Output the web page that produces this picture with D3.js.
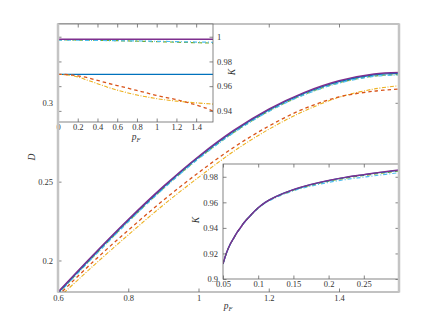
<!DOCTYPE html>
<html>
<head>
<meta charset="utf-8">
<script src="https://d3js.org/d3.v7.min.js"></script>
<style>
  html, body { margin: 0; padding: 0; background: #fff; }
  svg text { font-family: "Liberation Serif", "DejaVu Serif", serif; fill: #333; }
</style>
</head>
<body>
<svg id="chart" width="440" height="330"></svg>
<script>
// main panel: D vs p_F
var pF = [0.6, 0.7, 0.8, 0.9, 1.0, 1.1, 1.2, 1.3, 1.4, 1.5, 1.5708];
var dPurple = [0.180, 0.2035, 0.226, 0.247, 0.266, 0.2825, 0.296, 0.3065, 0.314, 0.3183, 0.3192];
var dBlue   = [0.1795, 0.203, 0.2255, 0.2465, 0.2655, 0.282, 0.2955, 0.306, 0.3135, 0.3178, 0.3187];
var dGreen  = [0.179, 0.2023, 0.2247, 0.2457, 0.2647, 0.2812, 0.2947, 0.3052, 0.3127, 0.317, 0.3179];
var dCyan   = [0.1788, 0.202, 0.2245, 0.2455, 0.2645, 0.281, 0.2945, 0.305, 0.3125, 0.3168, 0.3177];
var dRed    = [0.1777, 0.1992, 0.2192, 0.2382, 0.2557, 0.2717, 0.2852, 0.2962, 0.3037, 0.3074, 0.3087];
var dYellow = [0.176, 0.1965, 0.2162, 0.2352, 0.2527, 0.2692, 0.2832, 0.2947, 0.3035, 0.3088, 0.3108];
var mainX = [0.6, 0.8, 1, 1.2, 1.4];
var mainY = [0.2, 0.25, 0.3];

// top-left inset: K vs p_F
var pIn = [0, 0.1, 0.2, 0.3, 0.4, 0.5, 0.6, 0.7, 0.8, 0.9, 1.0, 1.1, 1.2, 1.3, 1.4, 1.5, 1.5708];
var kPurple = [0.998, 0.998, 0.998, 0.998, 0.998, 0.998, 0.998, 0.998, 0.998, 0.998, 0.998, 0.998, 0.998, 0.998, 0.998, 0.998, 0.998];
var kCyan   = [0.9973, 0.9973, 0.9972, 0.9971, 0.997, 0.9969, 0.9968, 0.9967, 0.9966, 0.9965, 0.9963, 0.9962, 0.996, 0.9959, 0.9957, 0.9956, 0.9955];
var kGreen  = [0.9974, 0.9974, 0.9973, 0.9972, 0.9971, 0.997, 0.9968, 0.9966, 0.9964, 0.9962, 0.996, 0.9958, 0.9956, 0.9954, 0.9952, 0.995, 0.9948];
var kBlue   = [0.9696, 0.9696, 0.9696, 0.9696, 0.9696, 0.9696, 0.9696, 0.9696, 0.9696, 0.9696, 0.9696, 0.9696, 0.9696, 0.9696, 0.9696, 0.9696, 0.9696];
var kRed    = [0.9696, 0.9693, 0.9684, 0.9668, 0.9647, 0.9625, 0.9605, 0.9585, 0.9565, 0.9545, 0.9525, 0.9508, 0.9491, 0.947, 0.9448, 0.9422, 0.9398];
var kYellow = [0.9696, 0.969, 0.9675, 0.9648, 0.962, 0.9592, 0.9568, 0.9547, 0.9528, 0.9513, 0.9499, 0.9488, 0.9479, 0.9472, 0.9465, 0.9459, 0.9455];
var in1X = [0, 0.2, 0.4, 0.6, 0.8, 1, 1.2, 1.4];
var in1Y = [0.94, 0.96, 0.98, 1];

// bottom-right inset: K vs p_F (small p_F)
var pSm = [0.05, 0.055, 0.06, 0.065, 0.07, 0.075, 0.08, 0.09, 0.1, 0.11, 0.125, 0.15, 0.175, 0.2, 0.225, 0.25, 0.275, 0.3];
var sPurple = [0.9118, 0.9205, 0.927, 0.9318, 0.9365, 0.9403, 0.9442, 0.9503, 0.9557, 0.960, 0.9645, 0.970, 0.974, 0.9772, 0.9797, 0.9817, 0.9836, 0.9853];
var sBlue   = [0.9118, 0.9205, 0.927, 0.9318, 0.9365, 0.9403, 0.9442, 0.9503, 0.9557, 0.960, 0.9645, 0.9699, 0.9739, 0.977, 0.9795, 0.9815, 0.9834, 0.985];
var sGreen  = [0.9118, 0.9205, 0.927, 0.9318, 0.9365, 0.9403, 0.9442, 0.9503, 0.9556, 0.9598, 0.9642, 0.9696, 0.9735, 0.9765, 0.979, 0.981, 0.9828, 0.9845];
var sCyan   = [0.9116, 0.9203, 0.9268, 0.9316, 0.9363, 0.94, 0.9439, 0.95, 0.9553, 0.9594, 0.9637, 0.969, 0.9727, 0.9756, 0.9779, 0.9797, 0.9815, 0.9832];
var in2X = [0.05, 0.1, 0.15, 0.2, 0.25];
var in2Y = [0.9, 0.92, 0.94, 0.96, 0.98];

var C = {purple: "#7E2F8E", blue: "#0072BD", cyan: "#4DBEEE", green: "#77AC30", red: "#D95319", yellow: "#EDB120"};
var styles = {
  purple: {c: C.purple, dash: null, w: 1.4},
  blue:   {c: C.blue, dash: null, w: 1.3},
  green:  {c: C.green, dash: "4,3", w: 1.2},
  cyan:   {c: C.cyan, dash: "4,2,1,2", w: 1.2},
  red:    {c: C.red, dash: "3.5,3", w: 1.3},
  yellow: {c: C.yellow, dash: "4,1.5,1,1.5", w: 1.1}
};

var svg = d3.select("#chart");
var fmt = function(d) { return String(+d.toFixed(2)); };
var axisCol = "#666";

function panel(opt) {
  var x = d3.scaleLinear().domain(opt.xd).range([opt.l, opt.r]);
  var y = d3.scaleLinear().domain(opt.yd).range([opt.b, opt.t]);
  var g = svg.append("g");
  g.append("rect").attr("x", opt.l).attr("y", opt.t)
    .attr("width", opt.r - opt.l).attr("height", opt.b - opt.t).attr("fill", "#fff");
  var id = "clip" + opt.name;
  g.append("clipPath").attr("id", id).append("rect")
    .attr("x", opt.l).attr("y", opt.t).attr("width", opt.r - opt.l).attr("height", opt.b - opt.t);
  var lines = g.append("g").attr("clip-path", "url(#" + id + ")");
  opt.series.forEach(function(s) {
    var st = styles[s.key];
    var line = d3.line().curve(d3.curveCatmullRom.alpha(0.5))
      .x(function(d, i) { return x(opt.xs[i]); })
      .y(function(d) { return y(d); });
    lines.append("path").attr("d", line(s.v)).attr("fill", "none")
      .attr("stroke", st.c).attr("stroke-width", st.w)
      .attr("stroke-dasharray", st.dash);
  });
  // box and inward ticks
  var tl = 3.5;
  g.append("rect").attr("x", opt.l).attr("y", opt.t)
    .attr("width", opt.r - opt.l).attr("height", opt.b - opt.t)
    .attr("fill", "none").attr("stroke", axisCol).attr("stroke-width", 0.8);
  var gx = g.append("g").attr("transform", "translate(0," + opt.b + ")")
    .call(d3.axisBottom(x).tickValues(opt.xt).tickSize(-tl).tickPadding(opt.xpad).tickFormat(fmt));
  var gxt = g.append("g").attr("transform", "translate(0," + opt.t + ")")
    .call(d3.axisTop(x).tickValues(opt.xt).tickSize(-tl).tickFormat(""));
  var yAx = opt.yRight ? d3.axisRight(y) : d3.axisLeft(y);
  var gy = g.append("g").attr("transform", "translate(" + (opt.yRight ? opt.r : opt.l) + ",0)")
    .call(yAx.tickValues(opt.yt).tickSize(-tl).tickPadding(opt.ypad).tickFormat(fmt));
  var yAx2 = opt.yRight ? d3.axisLeft(y) : d3.axisRight(y);
  var gy2 = g.append("g").attr("transform", "translate(" + (opt.yRight ? opt.l : opt.r) + ",0)")
    .call(yAx2.tickValues(opt.yt).tickSize(-tl).tickFormat(""));
  [gx, gxt, gy, gy2].forEach(function(a) {
    a.select(".domain").remove();
    a.selectAll("line").attr("stroke", axisCol).attr("stroke-width", 0.8);
    a.selectAll("text").attr("font-size", 8.5).attr("fill", "#444")
      .attr("font-family", "Liberation Serif, serif");
  });
  return {g: g, x: x, y: y};
}

function pLabel(g, x, y) {
  g.append("text").attr("x", x).attr("y", y).attr("text-anchor", "middle")
    .attr("font-size", 9.5).attr("font-style", "italic").attr("fill", "#444").text("p").append("tspan")
    .attr("font-size", 6.5).attr("dy", 1.5).text("F");
}

// main panel
var main = panel({
  name: "main", l: 58, r: 399, t: 24, b: 292, xpad: 3, ypad: 5,
  xd: [0.6, 1.5708], yd: [0.18, 0.35], xs: pF, xt: mainX, yt: mainY,
  series: [
    {key: "yellow", v: dYellow}, {key: "red", v: dRed}, {key: "green", v: dGreen},
    {key: "cyan", v: dCyan}, {key: "blue", v: dBlue}, {key: "purple", v: dPurple}
  ]
});
pLabel(main.g, 228, 309);
main.g.append("text").attr("transform", "translate(35,157) rotate(-90)")
  .attr("text-anchor", "middle").attr("font-size", 9.5).attr("font-style", "italic").attr("fill", "#444").text("D");

// top-left inset
var in1 = panel({
  name: "in1", l: 58, r: 213, t: 24, b: 122, yRight: true, xpad: 2, ypad: 4,
  xd: [0, 1.5708], yd: [0.931, 1.0103], xs: pIn, xt: in1X, yt: in1Y,
  series: [
    {key: "blue", v: kBlue}, {key: "yellow", v: kYellow}, {key: "red", v: kRed},
    {key: "green", v: kGreen}, {key: "cyan", v: kCyan}, {key: "purple", v: kPurple}
  ]
});
pLabel(in1.g, 136, 140);
in1.g.append("text").attr("transform", "translate(235,72) rotate(-90)")
  .attr("text-anchor", "middle").attr("font-size", 9.5).attr("font-style", "italic").attr("fill", "#444").text("K");

// bottom-right inset
var in2 = panel({
  name: "in2", l: 223, r: 399, t: 164, b: 279, xpad: 2, ypad: 5,
  xd: [0.05, 0.3], yd: [0.9, 0.99], xs: pSm, xt: in2X, yt: in2Y,
  series: [
    {key: "cyan", v: sCyan}, {key: "green", v: sGreen}, {key: "blue", v: sBlue}, {key: "purple", v: sPurple}
  ]
});
in2.g.append("text").attr("transform", "translate(199,220) rotate(-90)")
  .attr("text-anchor", "middle").attr("font-size", 9.5).attr("font-style", "italic").attr("fill", "#444").text("K");

// light grey side bars of the main axes on top
[58, 399].forEach(function(xp) {
  svg.append("line").attr("x1", xp).attr("x2", xp).attr("y1", 23.5).attr("y2", 292.5)
    .attr("stroke", "#c4c4c4").attr("stroke-width", 2.5);
});
</script>
</body>
</html>
